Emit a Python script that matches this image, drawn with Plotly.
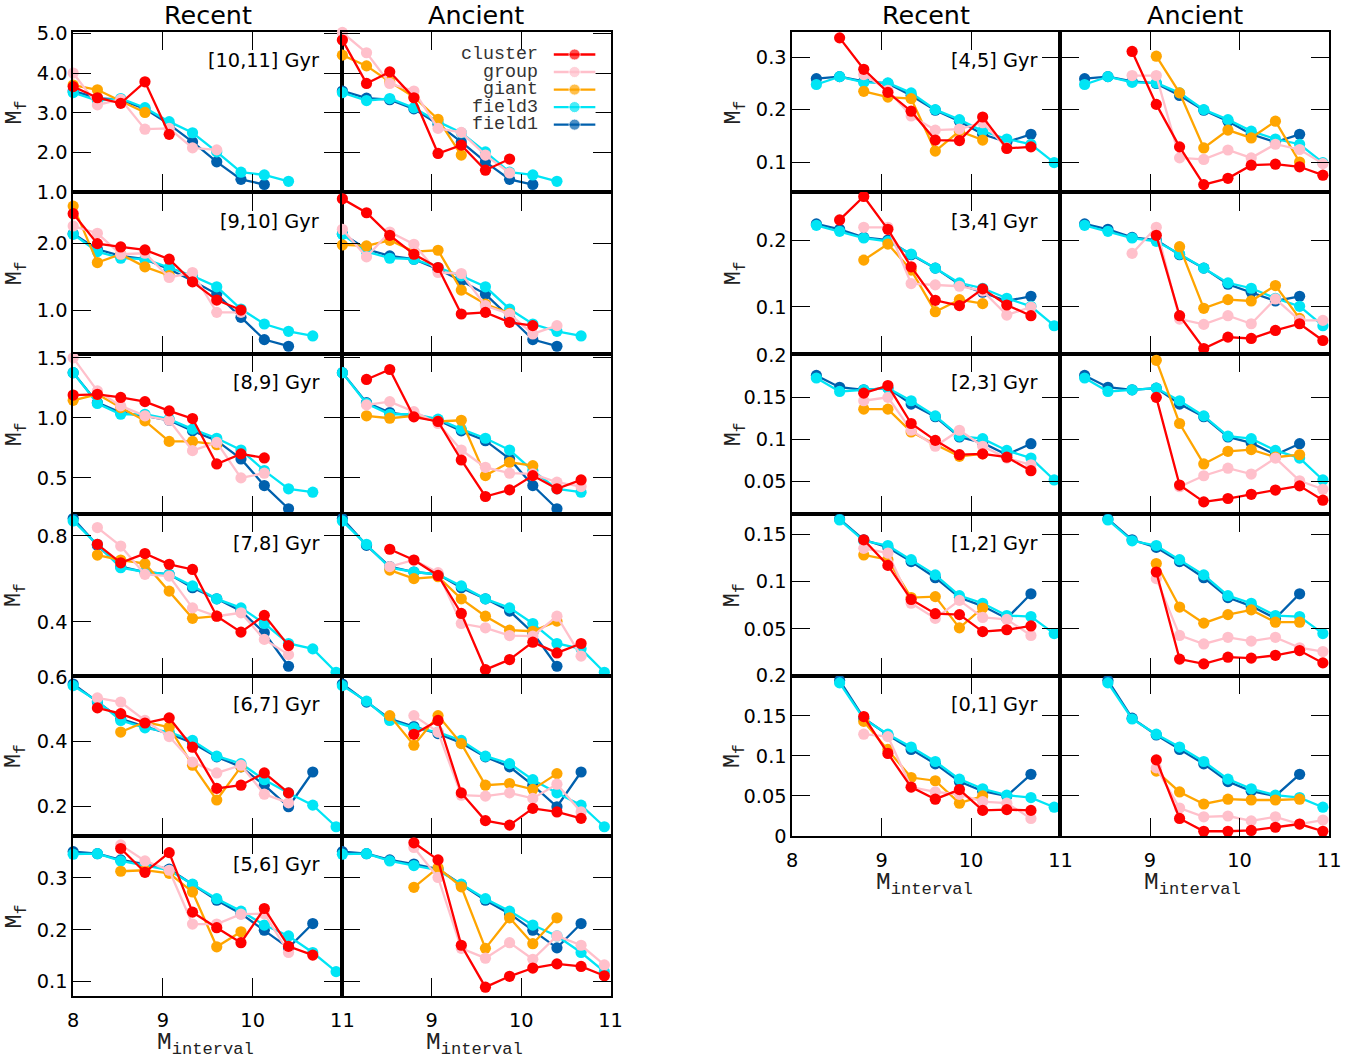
import plotly.graph_objects as go

N = None

# stellar-mass bins (x positions of every point)
MASS = [8.0, 8.27, 8.53, 8.8, 9.07, 9.33, 9.6, 9.87, 10.13, 10.4, 10.67, 10.93]

AGE_BINS_LEFT = ["[10,11]", "[9,10]", "[8,9]", "[7,8]", "[6,7]", "[5,6]"]
AGE_BINS_RIGHT = ["[4,5]", "[3,4]", "[2,3]", "[1,2]", "[0,1]"]

cluster_recent = {
    "[10,11]": [3.66, 3.38, 3.24, 3.78, 2.46],
    "[9,10]": [2.45, 2.0, 1.95, 1.905, 1.765, 1.425, 1.15, 1.0],
    "[8,9]": [1.19, 1.196, 1.17, 1.135, 1.058, 0.994, 0.616, 0.70, 0.666],
    "[7,8]": [N, 0.761, 0.675, 0.718, 0.668, 0.644, 0.426, 0.352, 0.430, 0.289],
    "[6,7]": [N, 0.505, 0.487, 0.458, 0.474, 0.383, 0.255, 0.265, 0.303, 0.241],
    "[5,6]": [N, N, 0.357, 0.311, 0.349, 0.234, 0.204, 0.175, 0.241, 0.168, 0.151],
    "[4,5]": [N, N, 0.337, 0.277, 0.233, 0.197, 0.142, 0.141, 0.186, 0.126, 0.129],
    "[3,4]": [N, N, 0.23, 0.265, 0.216, 0.16, 0.11, 0.102, 0.127, 0.103, 0.087],
    "[2,3]": [N, N, N, 0.155, 0.164, 0.119, 0.099, 0.082, 0.083, 0.079, 0.063],
    "[1,2]": [N, N, N, 0.144, 0.117, 0.081, 0.066, 0.065, 0.047, 0.049, 0.053],
    "[0,1]": [N, N, N, 0.149, 0.103, 0.061, 0.046, 0.058, 0.032, 0.033, 0.032],
}
cluster_ancient = {
    "[10,11]": [4.83, 3.74, 4.03, 3.38, 1.98, 2.19, 1.56, 1.84],
    "[9,10]": [2.675, 2.465, 2.125, 1.84, 1.64, 0.94, 0.965, 0.815, 0.765],
    "[8,9]": [N, 1.32, 1.403, 1.008, 0.97, 0.649, 0.345, 0.40, 0.519, 0.409, 0.483],
    "[7,8]": [N, N, 0.738, 0.688, 0.616, 0.439, 0.177, 0.224, 0.305, 0.255, 0.299],
    "[6,7]": [N, N, N, 0.423, 0.466, 0.241, 0.155, 0.141, 0.193, 0.182, 0.162],
    "[5,6]": [N, N, N, 0.368, 0.335, 0.17, 0.089, 0.11, 0.126, 0.134, 0.129, 0.111],
    "[4,5]": [N, N, N, 0.311, 0.21, 0.129, 0.057, 0.069, 0.094, 0.096, 0.091, 0.075],
    "[3,4]": [N, N, N, N, 0.207, 0.087, 0.038, 0.055, 0.053, 0.065, 0.075, 0.05],
    "[2,3]": [N, N, N, N, 0.15, 0.046, 0.026, 0.03, 0.035, 0.04, 0.045, 0.028],
    "[1,2]": [N, N, N, N, 0.11, 0.018, 0.013, 0.02, 0.019, 0.022, 0.027, 0.014],
    "[0,1]": [N, N, N, N, 0.095, 0.022, 0.006, 0.006, 0.007, 0.011, 0.015, 0.006],
}
group_recent = {
    "[10,11]": [4.0, 3.2, 3.34, 2.59, 2.61, 2.12, 2.07],
    "[9,10]": [2.265, 2.155, 1.84, 1.855, 1.49, 1.565, 0.965, 0.965],
    "[8,9]": [1.5, 1.224, 1.1, 1.017, 0.98, 0.727, 0.796, 0.5, 0.539],
    "[7,8]": [N, 0.839, 0.753, 0.621, 0.613, 0.465, 0.426, 0.442, 0.318, 0.247],
    "[6,7]": [N, 0.536, 0.523, 0.466, 0.416, 0.337, 0.303, 0.327, 0.237, 0.21],
    "[5,6]": [N, N, 0.364, 0.333, 0.315, 0.211, 0.211, 0.23, 0.231, 0.156],
    "[4,5]": [N, N, N, 0.267, 0.237, 0.188, 0.161, 0.163, 0.175, 0.127],
    "[3,4]": [N, N, N, 0.219, 0.219, 0.135, 0.133, 0.131, 0.124, 0.088, 0.1],
    "[2,3]": [N, N, N, 0.146, 0.15, 0.111, 0.092, 0.111, 0.092, 0.078, 0.07],
    "[1,2]": [N, N, N, 0.135, 0.13, 0.077, 0.061, 0.08, 0.062, 0.06, 0.043],
    "[0,1]": [N, N, N, 0.127, 0.124, 0.061, 0.055, 0.052, 0.043, 0.041, 0.022],
}
group_ancient = {
    "[10,11]": [5.02, 4.51, 3.74, 3.55, 2.61, 2.51, 1.94, 1.49],
    "[9,10]": [2.215, 1.8, 2.175, 1.99, 1.565, 1.55, 1.065, 0.94, 0.64, 0.765],
    "[8,9]": [N, 1.108, 1.135, 1.052, 0.953, 0.732, 0.588, 0.539, 0.533, 0.464, 0.428],
    "[7,8]": [N, N, 0.657, 0.688, 0.629, 0.392, 0.372, 0.336, 0.333, 0.426, 0.24],
    "[6,7]": [N, N, N, 0.481, 0.43, 0.234, 0.231, 0.241, 0.224, 0.268, 0.182],
    "[5,6]": [N, N, N, 0.359, 0.301, 0.164, 0.145, 0.175, 0.143, 0.188, 0.17, 0.132],
    "[4,5]": [N, N, N, 0.265, 0.265, 0.108, 0.105, 0.123, 0.108, 0.134, 0.124, 0.097],
    "[3,4]": [N, N, N, 0.18, 0.219, 0.082, 0.074, 0.087, 0.075, 0.112, 0.08, 0.08],
    "[2,3]": [N, N, N, N, N, 0.044, 0.057, 0.066, 0.059, 0.078, 0.051, 0.041],
    "[1,2]": [N, N, N, N, 0.103, 0.043, 0.034, 0.041, 0.037, 0.041, 0.03, 0.026],
    "[0,1]": [N, N, N, N, 0.085, 0.035, 0.024, 0.025, 0.019, 0.024, 0.015, 0.02],
}
giant_recent = {
    "[10,11]": [3.7, 3.58, 3.3, 3.01],
    "[9,10]": [2.565, 1.715, 1.84, 1.65, 1.52],
    "[8,9]": [1.146, 1.196, 1.086, 0.975, 0.804, 0.804, 0.776],
    "[7,8]": [N, 0.711, 0.688, 0.671, 0.543, 0.416, 0.426],
    "[6,7]": [N, N, 0.43, 0.461, 0.445, 0.327, 0.219, 0.322],
    "[5,6]": [N, N, 0.313, 0.315, 0.309, 0.273, 0.167, 0.196],
    "[4,5]": [N, N, N, 0.235, 0.224, 0.221, 0.121, 0.159, 0.142],
    "[3,4]": [N, N, N, 0.17, 0.194, 0.155, 0.093, 0.111, 0.105],
    "[2,3]": [N, N, N, 0.136, 0.136, 0.109, 0.094, 0.08, 0.083],
    "[1,2]": [N, N, N, 0.128, 0.123, 0.083, 0.084, 0.051, 0.072],
    "[0,1]": [N, N, N, 0.143, 0.108, 0.073, 0.069, 0.041, 0.05],
}
giant_ancient = {
    "[10,11]": [4.45, 4.18, 3.78, 3.4, 2.84, 1.94],
    "[9,10]": [1.98, 1.965, 2.05, 1.88, 1.9, 1.3, 1.09, 0.95],
    "[8,9]": [N, 1.017, 0.997, 1.017, 0.97, 0.98, 0.519, 0.63, 0.602],
    "[7,8]": [N, N, 0.641, 0.601, 0.61, 0.507, 0.426, 0.361, 0.356, 0.403],
    "[6,7]": [N, N, 0.481, 0.389, 0.481, 0.394, 0.265, 0.27, 0.252, 0.301],
    "[5,6]": [N, N, N, 0.282, 0.32, 0.283, 0.164, 0.223, 0.173, 0.223],
    "[4,5]": [N, N, N, N, 0.302, 0.232, 0.127, 0.161, 0.146, 0.178, 0.1],
    "[3,4]": [N, N, N, N, N, 0.19, 0.098, 0.111, 0.109, 0.132, 0.083],
    "[2,3]": [N, N, N, N, 0.194, 0.119, 0.071, 0.086, 0.088, 0.079, 0.082],
    "[1,2]": [N, N, N, N, 0.119, 0.073, 0.056, 0.065, 0.07, 0.057, 0.057],
    "[0,1]": [N, N, N, N, 0.081, 0.055, 0.04, 0.046, 0.045, 0.045, 0.046],
}
# field samples are the same reference in both columns
field3 = {
    "[10,11]": [3.51, 3.31, 3.36, 3.13, 2.78, 2.5, 2.02, 1.51, 1.44, 1.28],
    "[9,10]": [2.14, 1.88, 1.78, 1.765, 1.64, 1.515, 1.35, 1.015, 0.79, 0.68, 0.61],
    "[8,9]": [1.376, 1.12, 1.03, 1.03, 0.989, 0.906, 0.83, 0.732, 0.561, 0.409, 0.381],
    "[7,8]": [0.87, 0.761, 0.652, 0.632, 0.621, 0.567, 0.507, 0.465, 0.392, 0.299, 0.274, 0.165],
    "[6,7]": [0.574, 0.526, 0.466, 0.443, 0.43, 0.404, 0.355, 0.332, 0.282, 0.241, 0.203, 0.136],
    "[5,6]": [0.346, 0.347, 0.333, 0.324, 0.315, 0.288, 0.26, 0.236, 0.209, 0.188, 0.156, 0.119],
    "[4,5]": [N, 0.248, 0.263, 0.252, 0.251, 0.232, 0.2, 0.181, 0.159, 0.144, 0.134, 0.099],
    "[3,4]": [N, 0.222, 0.213, 0.203, 0.198, 0.179, 0.158, 0.136, 0.128, 0.113, 0.101, 0.072],
    "[2,3]": [N, 0.173, 0.157, 0.159, 0.161, 0.146, 0.128, 0.104, 0.101, 0.087, 0.078, 0.052],
    "[1,2]": [N, N, 0.165, 0.143, 0.138, 0.123, 0.107, 0.085, 0.077, 0.064, 0.063, 0.045],
    "[0,1]": [N, N, 0.191, 0.146, 0.127, 0.111, 0.093, 0.071, 0.059, 0.051, 0.048, 0.036],
}
field1 = {
    "[10,11]": [3.55, 3.37, 3.33, 3.1, 2.71, 2.27, 1.77, 1.33, 1.2],
    "[9,10]": [2.15, 1.915, 1.815, 1.765, 1.615, 1.44, 1.24, 0.89, 0.555, 0.455],
    "[8,9]": [1.376, 1.127, 1.044, 1.017, 0.98, 0.892, 0.81, 0.658, 0.436, 0.243],
    "[7,8]": [0.881, 0.756, 0.657, 0.632, 0.621, 0.559, 0.507, 0.45, 0.349, 0.193],
    "[6,7]": [0.579, 0.523, 0.471, 0.447, 0.425, 0.396, 0.353, 0.322, 0.265, 0.198, 0.306],
    "[5,6]": [0.351, 0.347, 0.335, 0.327, 0.317, 0.287, 0.257, 0.231, 0.199, 0.165, 0.212],
    "[4,5]": [N, 0.259, 0.263, 0.254, 0.25, 0.227, 0.199, 0.178, 0.153, 0.138, 0.153],
    "[3,4]": [N, 0.224, 0.216, 0.204, 0.2, 0.178, 0.158, 0.134, 0.122, 0.109, 0.116],
    "[2,3]": [N, 0.176, 0.162, 0.159, 0.161, 0.142, 0.127, 0.103, 0.096, 0.082, 0.095],
    "[1,2]": [N, N, 0.166, 0.144, 0.136, 0.121, 0.104, 0.083, 0.074, 0.061, 0.087],
    "[0,1]": [N, N, 0.194, 0.147, 0.126, 0.108, 0.09, 0.068, 0.056, 0.05, 0.077],
}

SERIES_NAMES = ["cluster", "group", "giant", "field3", "field1"]
COLORS = {"cluster": "#ff0000", "group": "#ffc0cb", "giant": "#ffa500",
          "field3": "#00e5f5", "field1": "#0060ad"}

# y-axis range / tick step per age bin
Y_AXIS = {
    "[10,11]": ([1.0, 5.03], 1.0), "[9,10]": ([0.34, 2.77], 1.0),
    "[8,9]": ([0.197, 1.533], 0.5), "[7,8]": ([0.149, 0.901], 0.4),
    "[6,7]": ([0.107, 0.605], 0.2), "[5,6]": ([0.071, 0.381], 0.1),
    "[4,5]": ([0.042, 0.348], 0.1), "[3,4]": ([0.03, 0.271], 0.1),
    "[2,3]": ([0.0113, 0.2016], 0.05), "[1,2]": ([0.0005, 0.171], 0.05),
    "[0,1]": ([0.0, 0.2], 0.05),
}

# figure size; layout positions below are given on a 1362x1063 sheet and
# converted to figure fractions (with the page's body margin and the
# viewport fit taken into account)
W, H = 1362, 1063
BODY_MARGIN = 8
FIT_X, FIT_Y = 0.986, 0.982
K = 1 / FIT_Y  # size compensation for fonts / markers
TICK_FONT = dict(family="DejaVu Sans", size=19 * K, color="black")
MONO = "Liberation Mono"
MARKER = 11 * K
LINE_W = 2.3
TICKLEN = 18 * K

fig = go.Figure()
layout = dict(width=W, height=H, margin=dict(l=0, r=0, t=0, b=0),
              plot_bgcolor="white", paper_bgcolor="white", showlegend=False)
annotations = []


def px_x(px):
    return (px / FIT_X - BODY_MARGIN) / W


def px_y(py):
    return 1 - (py / FIT_Y - BODY_MARGIN) / H


axis_count = [0]


def add_panel(bin_key, epoch, x0, x1, y0, y1, bottom, left_fmt):
    axis_count[0] += 1
    n = axis_count[0]
    yr, dt = Y_AXIS[bin_key]
    is_recent = epoch == "recent"
    xa = dict(domain=[px_x(x0), px_x(x1)], range=[8, 11], anchor=f"y{n}",
              showline=True, linecolor="black", linewidth=1.5, mirror="allticks",
              ticks="inside", ticklen=TICKLEN, tickwidth=1.2, tickcolor="black",
              tickvals=[8, 9, 10, 11],
              ticktext=["8" if is_recent else "", "9", "10", "11"],
              showticklabels=bottom, tickfont=TICK_FONT, ticklabelstandoff=6,
              showgrid=False, zeroline=False, fixedrange=True)
    ya = dict(domain=[px_y(y1), px_y(y0)], range=yr, anchor=f"x{n}",
              showline=True, linecolor="black", linewidth=1.5, mirror="allticks",
              ticks="inside", ticklen=TICKLEN, tickwidth=1.2, tickcolor="black",
              tick0=0, dtick=dt, tickformat=left_fmt,
              showticklabels=is_recent, tickfont=TICK_FONT,
              showgrid=False, zeroline=False, fixedrange=True)
    layout[f"xaxis{n}"] = xa
    layout[f"yaxis{n}"] = ya

    sets = {
        "field1": field1[bin_key],
        "field3": field3[bin_key],
        "giant": (giant_recent if is_recent else giant_ancient)[bin_key],
        "group": (group_recent if is_recent else group_ancient)[bin_key],
        "cluster": (cluster_recent if is_recent else cluster_ancient)[bin_key],
    }
    for name in ["field1", "field3", "giant", "group", "cluster"]:
        vals = sets[name]
        fig.add_trace(go.Scatter(
            x=MASS[:len(vals)], y=vals, mode="lines+markers", name=name,
            line=dict(color=COLORS[name], width=LINE_W),
            marker=dict(color=COLORS[name], size=MARKER),
            xaxis=f"x{n}", yaxis=f"y{n}", cliponaxis=False, hoverinfo="skip"))


def add_block(bins, xl, xm, xr, edges, fmt):
    nrows = len(bins)
    for i, b in enumerate(bins):
        top, bot = edges[i], edges[i + 1]
        last = i == nrows - 1
        add_panel(b, "recent", xl, xm, top, bot, last, fmt)
        add_panel(b, "ancient", xm, xr, top, bot, last, fmt)
        annotations.append(dict(
            text=f"{b} Gyr", xref="paper", yref="paper",
            x=px_x(xm - 21), y=px_y(top + 29), xanchor="right", yanchor="middle",
            showarrow=False, font=dict(family="DejaVu Sans", size=19 * K, color="black")))
        annotations.append(dict(
            text="M<sub>f</sub>", xref="paper", yref="paper",
            x=px_x(xl - 57), y=px_y((top + bot) / 2), xanchor="center",
            yanchor="middle", textangle=-90, showarrow=False,
            font=dict(family=MONO, size=23 * K, color="#222")))
    for cx, title in [((xl + xm) / 2, "Recent"), ((xm + xr) / 2, "Ancient")]:
        annotations.append(dict(
            text=title, xref="paper", yref="paper", x=px_x(cx), y=px_y(12),
            xanchor="center", yanchor="middle", showarrow=False,
            font=dict(family="DejaVu Sans", size=25 * K, color="black")))
        annotations.append(dict(
            text="M<sub>interval</sub>", xref="paper", yref="paper",
            x=px_x(cx - 2), y=px_y(edges[-1] + 48), xanchor="center",
            yanchor="middle", showarrow=False,
            font=dict(family=MONO, size=24 * K, color="#222")))


add_block(AGE_BINS_LEFT, 75, 344, 612, [29, 190, 352, 513, 675, 836, 997], ".1f")
add_block(AGE_BINS_RIGHT, 793.5, 1061.5, 1330, [29, 190, 352, 513, 675, 836], "")

# key: labels on the left, line + point sample on the right
KEY_TOP, KEY_STEP = 51.5, 17.6
layout["xaxis99"] = dict(domain=[px_x(555), px_x(597)], range=[0, 1], visible=False,
                         anchor="y99", fixedrange=True)
layout["yaxis99"] = dict(domain=[px_y(KEY_TOP + 4.5 * KEY_STEP), px_y(KEY_TOP - 0.5 * KEY_STEP)],
                         range=[4.5, -0.5], visible=False, anchor="x99", fixedrange=True)
for k, name in enumerate(SERIES_NAMES):
    fig.add_trace(go.Scatter(
        x=[0, 0.5, 1], y=[k, k, k], mode="lines+markers",
        line=dict(color=COLORS[name], width=LINE_W),
        marker=dict(color=COLORS[name], size=[0, MARKER, 0]),
        xaxis="x99", yaxis="y99", cliponaxis=False, hoverinfo="skip"))
    annotations.append(dict(
        text=name, xref="paper", yref="paper", x=px_x(541),
        y=px_y(KEY_TOP + k * KEY_STEP), xanchor="right", yanchor="middle",
        showarrow=False, font=dict(family=MONO, size=18 * K, color="#333")))

layout["annotations"] = annotations
fig.update_layout(**layout)
fig.write_html("out.html")
